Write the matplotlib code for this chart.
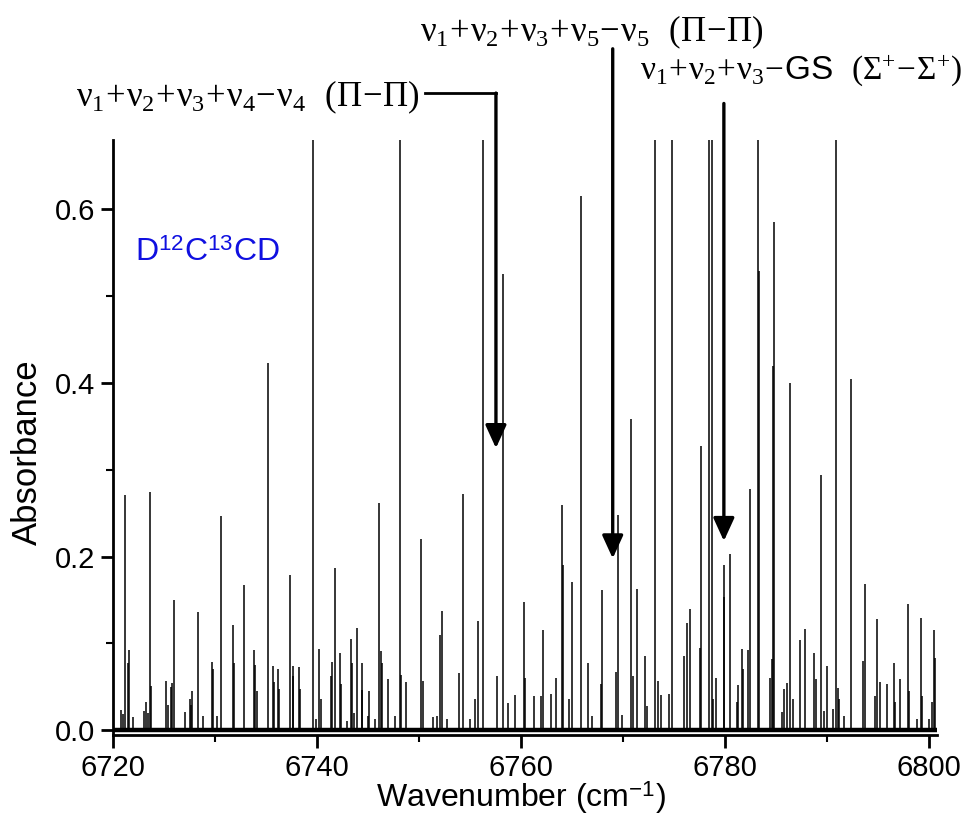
import matplotlib
matplotlib.use("Agg")
import matplotlib.pyplot as plt
from matplotlib.ticker import MultipleLocator, FormatStrFormatter

plt.rcParams['font.family'] = ['Liberation Sans', 'DejaVu Sans']
# upright Times-like greek for the band labels, Arial-like sans for \mathsf
plt.rcParams['mathtext.fontset'] = 'custom'
plt.rcParams['mathtext.rm'] = 'Liberation Serif'
plt.rcParams['mathtext.it'] = 'Liberation Serif'
plt.rcParams['mathtext.bf'] = 'Liberation Serif:bold'
plt.rcParams['mathtext.sf'] = 'Liberation Sans'

# line positions (cm-1) and peak absorbance
# (1.0 = line runs off the top of the plot)
wavenumber = [
    6720.78, 6720.95, 6721.21, 6721.50, 6721.57, 6721.99, 6723.07, 6723.21, 6723.46, 6723.63,
    6723.70, 6725.20, 6725.39, 6725.69, 6725.78, 6725.95, 6727.06, 6727.52, 6727.62, 6727.77,
    6728.30, 6728.85, 6729.68, 6729.80, 6730.23, 6730.59, 6731.79, 6731.89, 6732.84, 6733.82,
    6733.95, 6734.09, 6735.17, 6735.69, 6735.81, 6736.15, 6736.24, 6737.38, 6737.61, 6737.68,
    6738.24, 6738.33, 6739.64, 6739.90, 6740.22, 6740.36, 6741.40, 6741.47, 6741.79, 6742.28,
    6742.38, 6742.91, 6743.33, 6743.43, 6743.66, 6743.92, 6744.38, 6744.44, 6744.97, 6745.13,
    6745.69, 6746.08, 6746.27, 6746.37, 6746.93, 6747.65, 6748.14, 6748.26, 6748.70, 6750.20,
    6750.42, 6751.34, 6751.73, 6752.06, 6752.22, 6752.77, 6753.95, 6754.28, 6755.00, 6755.49,
    6755.81, 6756.30, 6757.62, 6758.27, 6758.75, 6759.44, 6760.26, 6760.36, 6761.25, 6761.93,
    6762.13, 6762.94, 6763.43, 6764.05, 6764.12, 6764.71, 6765.00, 6765.91, 6766.54, 6766.96,
    6767.81, 6767.97, 6769.31, 6769.54, 6769.93, 6770.78, 6770.95, 6771.40, 6772.16, 6772.38,
    6773.14, 6773.46, 6773.70, 6774.48, 6774.83, 6776.01, 6776.25, 6776.60, 6777.58, 6777.62,
    6778.40, 6778.75, 6778.85, 6779.12, 6779.87, 6779.96, 6780.49, 6781.15, 6781.24, 6781.64,
    6781.79, 6782.28, 6782.42, 6783.26, 6783.36, 6784.44, 6784.64, 6784.71, 6784.80, 6785.62,
    6785.78, 6786.05, 6786.37, 6786.70, 6787.32, 6787.87, 6788.73, 6788.89, 6789.41, 6789.71,
    6789.97, 6790.62, 6790.85, 6791.08, 6791.18, 6791.70, 6792.38, 6793.56, 6793.75, 6794.72,
    6794.87, 6795.19, 6795.91, 6796.54, 6796.69, 6797.13, 6797.91, 6798.04, 6798.79, 6799.25,
    6799.34, 6800.03, 6800.29, 6800.52, 6800.59,
]
absorbance = [
    0.023, 0.019, 0.271, 0.078, 0.092, 0.015, 0.022, 0.033, 0.020, 0.274,
    0.051, 0.057, 0.029, 0.050, 0.055, 0.150, 0.021, 0.036, 0.029, 0.045,
    0.136, 0.016, 0.079, 0.071, 0.016, 0.247, 0.121, 0.078, 0.167, 0.092,
    0.075, 0.045, 0.423, 0.074, 0.056, 0.070, 0.048, 0.179, 0.063, 0.074,
    0.073, 0.048, 1.0, 0.013, 0.094, 0.036, 0.063, 0.079, 0.187, 0.089,
    0.053, 0.011, 0.105, 0.078, 0.020, 0.118, 0.078, 0.046, 0.016, 0.045,
    0.013, 0.262, 0.091, 0.078, 0.059, 0.016, 1.0, 0.064, 0.056, 0.220,
    0.057, 0.015, 0.016, 0.110, 0.137, 0.013, 0.066, 0.272, 0.013, 0.036,
    0.126, 1.0, 0.062, 0.526, 0.031, 0.041, 0.148, 0.060, 0.040, 0.040,
    0.115, 0.042, 0.060, 0.260, 0.190, 0.036, 0.171, 0.616, 0.078, 0.016,
    0.053, 0.162, 0.067, 0.248, 0.018, 0.358, 0.063, 0.163, 0.085, 0.028,
    1.0, 0.057, 0.041, 0.042, 1.0, 0.086, 0.123, 0.140, 0.095, 0.328,
    1.0, 1.0, 0.036, 0.060, 0.190, 0.153, 0.203, 0.032, 0.052, 0.094,
    0.071, 0.093, 0.278, 1.0, 0.529, 0.060, 0.082, 0.420, 0.585, 0.021,
    0.047, 0.055, 0.400, 0.036, 0.104, 0.117, 0.089, 0.059, 0.294, 0.022,
    0.074, 0.024, 1.0, 0.049, 0.036, 0.016, 0.405, 0.080, 0.169, 0.039,
    0.128, 0.056, 0.053, 0.078, 0.033, 0.059, 0.146, 0.045, 0.013, 0.129,
    0.039, 0.013, 0.032, 0.115, 0.083,
]

# band labels and where their arrows point (cm-1, absorbance)
band_labels = [
    r'$\nu_1\!+\!\nu_2\!+\!\nu_3\!+\!\nu_4\!-\!\nu_4$  $(\Pi\!-\!\Pi)$',
    r'$\nu_1\!+\!\nu_2\!+\!\nu_3\!+\!\nu_5\!-\!\nu_5$  $(\Pi\!-\!\Pi)$',
    r'$\nu_1\!+\!\nu_2\!+\!\nu_3\!-\!$GS  $(\Sigma^{+}\!-\!\Sigma^{+})$',
]
arrow_x = [6757.55, 6769.0, 6779.9]
arrow_tip = [0.325, 0.198, 0.218]
arrow_start = [0.734, 0.785, 0.722]

fig = plt.figure(figsize=(9.65, 8.16), dpi=100)
ax = fig.add_axes([0.1171, 0.0987, 0.8539, 0.7298])

ax.axhline(0, color='black', lw=3.2, zorder=1)
ax.vlines(wavenumber, 0, absorbance, color='black', lw=1.1, zorder=2)

ax.set_xlim(6720, 6800.8)
ax.set_ylim(-0.006, 0.68)
ax.xaxis.set_major_locator(MultipleLocator(20))
ax.xaxis.set_minor_locator(MultipleLocator(10))
ax.yaxis.set_major_locator(MultipleLocator(0.2))
ax.yaxis.set_minor_locator(MultipleLocator(0.1))
ax.yaxis.set_major_formatter(FormatStrFormatter('%.1f'))

for s in ['top', 'right']:
    ax.spines[s].set_visible(False)
for s in ['left', 'bottom']:
    ax.spines[s].set_linewidth(2)
ax.tick_params(which='major', length=9, width=2, labelsize=21, direction='out')
ax.tick_params(which='minor', length=5, width=1.5, direction='out')
ax.tick_params(axis='x', pad=4)
ax.tick_params(axis='y', pad=4)

fig.text(27 / 965, 1 - 452 / 816, 'Absorbance', rotation=90, ha='center', va='center', fontsize=25)
fig.text(521 / 965, 0, r'Wavenumber (cm$^{\mathsf{-1}}$)', ha='center', va='bottom', fontsize=23)

ax.text(6722.2, 0.54, r'D$^{\mathsf{12}}$C$^{\mathsf{13}}$CD', color='#1010e0', fontsize=23)

# labels
fig.text(420 / 965, 1 - 97 / 816, band_labels[0], ha='right', va='center', fontsize=25)
fig.text(420 / 965, 1 - 32 / 816, band_labels[1], ha='left', va='center', fontsize=25)
fig.text(640 / 965, 1 - 70 / 816, band_labels[2], ha='left', va='center', fontsize=24)

ax.plot([6750.6, arrow_x[0]], [arrow_start[0], arrow_start[0]], color='black', lw=2, clip_on=False)
for xa, y0, y1 in zip(arrow_x, arrow_start, arrow_tip):
    ax.annotate('', xy=(xa, y1), xytext=(xa, y0), annotation_clip=False,
                arrowprops=dict(arrowstyle='-|>,head_length=0.7,head_width=0.32', mutation_scale=20,
                                lw=2.4, color='black', shrinkA=0, shrinkB=0))

fig.savefig('out.png', dpi=100)
